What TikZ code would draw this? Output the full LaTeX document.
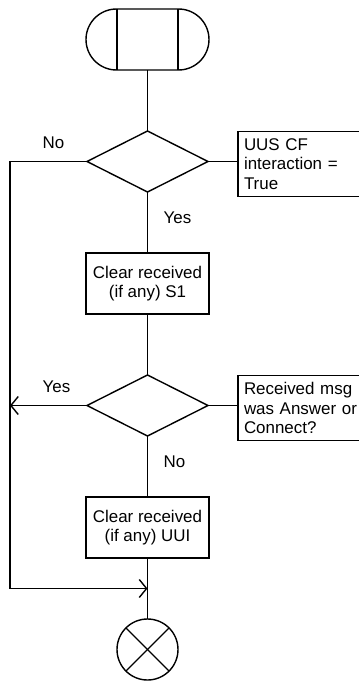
\documentclass[tikz,border=0pt]{standalone}
\usepackage{fontspec}
\setmainfont{Liberation Sans}
\usepackage{tikz}
\usetikzlibrary{positioning, arrows.meta, shapes.geometric, shapes.misc, calc}

\tikzset{
    term/.style={draw, rounded rectangle, minimum width=92.25pt, minimum height=45.75pt, inner sep=0pt, outer sep=0pt,
        path picture={
            \draw ([xshift=-22.875pt]path picture bounding box.north) -- ([xshift=-22.875pt]path picture bounding box.south);
            \draw ([xshift=22.875pt]path picture bounding box.north) -- ([xshift=22.875pt]path picture bounding box.south);
        }},
    decision/.style={draw, diamond, aspect=2, minimum width=90.75pt, minimum height=45.75pt, inner sep=0pt, outer sep=0pt},
    process/.style={draw, rectangle, minimum width=92.25pt, minimum height=45.75pt, align=center, inner sep=2pt, outer sep=0pt},
    comment/.style={draw, rectangle, text width=88.5pt, minimum height=48.75pt, align=left, inner xsep=4.5pt, inner ysep=1pt, outer sep=0pt},
    stopnode/.style={draw, circle, minimum size=45.75pt, inner sep=0pt, outer sep=0pt,
        path picture={
            \draw (path picture bounding box.north west) -- (path picture bounding box.south east);
            \draw (path picture bounding box.north east) -- (path picture bounding box.south west);
        }},
    lbl/.style={inner sep=0pt, anchor=west}
}

\begin{document}
\begin{tikzpicture}[node distance=45.75pt, line width=1.05pt, >={Straight Barb[length=5.5pt, width=13.5pt]},
    font=\fontsize{12.7}{14.6}\selectfont]
                \useasboundingbox (-110.625pt,29.625pt) rectangle (157.875pt,-481.875pt);

                \node[term] (start) at (0,0) {};
                \node[decision, below=of start] (uus) {};
                \node[comment, right=22.5pt of uus, yshift=-2pt] (uusnote) {UUS CF\\interaction =\\True};
                \node[process, below=of uus] (clrsone) {Clear received\\(if any) S1};
                \node[decision, below=of clrsone] (ansq) {};
                \node[comment, right=22.5pt of ansq, yshift=-2pt] (ansnote) {Received msg\\was Answer or\\Connect?};
                \node[process, below=of ansq] (clruui) {Clear received\\(if any) UUI};
                \node[stopnode, below=of clruui] (stop) {};

                \coordinate (join) at ($(clruui.south)!0.5!(stop.north)$);
                \coordinate (lft) at ([xshift=-57.75pt]uus.west);
                \coordinate (corner) at (lft |- join);

                \draw (start) -- (uus);
                \draw (uus.east) -- (uus.east -| uusnote.west);
                \draw (uus) -- node[lbl, pos=0.42, xshift=11.6pt] {Yes} (clrsone);
                \draw[->] (uus.west) -| node[lbl, pos=0.292, yshift=14.25pt] {No} (corner) -- (join);
                \draw (clrsone) -- (ansq);
                \draw (ansq.east) -- (ansq.east -| ansnote.west);
                \draw[->] (ansq.west) -- node[lbl, pos=0.584, yshift=14.25pt] {Yes} (ansq.west -| lft);
                \draw (ansq) -- node[lbl, pos=0.43, xshift=11.6pt] {No} (clruui);
                \draw (clruui) -- (stop);
            \end{tikzpicture}
\end{document}
